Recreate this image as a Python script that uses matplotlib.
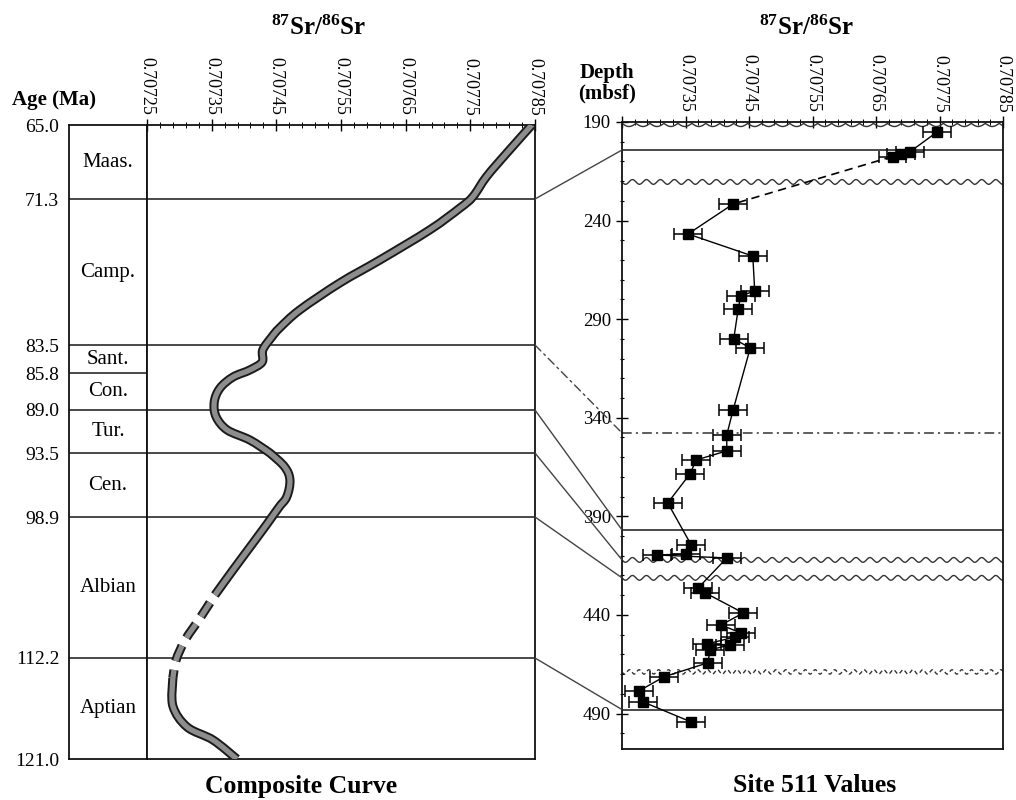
import numpy as np
import matplotlib
matplotlib.use("Agg")
import matplotlib.pyplot as plt
from matplotlib.patches import ConnectionPatch, PathPatch
from matplotlib.path import Path
from matplotlib.ticker import FixedLocator

plt.rcParams['font.family'] = ['Liberation Serif', 'DejaVu Serif']
plt.rcParams['mathtext.fontset'] = 'custom'
plt.rcParams['mathtext.rm'] = 'Liberation Serif:bold'
plt.rcParams['mathtext.it'] = 'Liberation Serif:bold'
plt.rcParams['mathtext.bf'] = 'Liberation Serif:bold'
plt.rcParams['lines.scale_dashes'] = False

# ---------------- data ----------------
stage_names = ['Maas.', 'Camp.', 'Sant.', 'Con.', 'Tur.', 'Cen.', 'Albian', 'Aptian']
stage_bounds = [65.0, 71.3, 83.5, 85.8, 89.0, 93.5, 98.9, 112.2, 121.0]
# hand-drafted (non-linear) spacing of the age axis, relative units
age_axis_pos = [0, 74, 220, 248, 285, 328, 392, 533, 634]
full_width_bounds = [71.3, 83.5, 89.0, 93.5, 98.9, 112.2]

curve_age = [65.0, 67.41, 69.40, 71.10, 72.05, 73.89, 76.40, 78.32, 80.58,
             82.08, 82.83, 83.91, 84.90, 85.55, 86.15, 87.10, 88.31, 89.73,
             91.09, 92.14, 93.50, 94.68, 95.78, 97.21, 98.31, 101.35, 103.90,
             106.26, 108.43, 110.50, 112.37, 113.94, 116.38, 118.21, 119.34, 121.0]
curve_sr = [0.707845, 0.707806, 0.707775, 0.707754, 0.707734, 0.707687, 0.707610,
            0.707548, 0.707486, 0.707455, 0.707443, 0.707429, 0.707428, 0.707409,
            0.707383, 0.707363, 0.707354, 0.707357, 0.707374, 0.707409, 0.707440,
            0.707463, 0.707471, 0.707466, 0.707451, 0.707414, 0.707383, 0.707355,
            0.707332, 0.707309, 0.707295, 0.707290, 0.707290, 0.707312, 0.707352,
            0.707389]
curve_dashed_from = 106.26
curve_dashed_to = 113.94

site_depth = [195.1, 205.0, 206.0, 207.5, 231.6, 246.8, 258.0, 275.7, 278.2,
              284.8, 300.0, 304.6, 336.0, 348.7, 356.8, 361.4, 368.5, 383.2,
              404.5, 409.1, 409.6, 411.1, 426.3, 428.8, 439.0, 445.1, 449.1,
              451.2, 454.7, 455.2, 457.7, 464.3, 471.4, 478.5, 484.1, 494.3]
site_sr = [0.707746, 0.707704, 0.707689, 0.707676, 0.707425, 0.707354, 0.707456,
           0.707459, 0.707437, 0.707433, 0.707426, 0.707452, 0.707425, 0.707415,
           0.707415, 0.707367, 0.707357, 0.707322, 0.707359, 0.707351, 0.707305,
           0.707415, 0.707370, 0.707381, 0.707441, 0.707406, 0.707437, 0.707428,
           0.707384, 0.707420, 0.707389, 0.707385, 0.707316, 0.707277, 0.707283,
           0.707359]
site_err = 0.000022
dashed_segment = 3   # segment from point 3 to point 4 is dashed

solid_depths = [204.2, 396.9, 488.0]
wavy_depths = [220.4, 412.1, 421.2]
scallop_depths = [190.7]
wavy_dashed_depths = [468.9]
dashdot_depths = [347.7]

tie_ages = [71.3, 83.5, 89.0, 93.5, 98.9, 112.2]
tie_depths = [204.2, 347.7, 396.9, 412.1, 421.2, 488.0]
tie_styles = ['-', (0, (6, 3, 1.5, 3)), '-', '-', '-', '-']

sr_ticks = [0.70725, 0.70735, 0.70745, 0.70755, 0.70765, 0.70775, 0.70785]
site_sr_labels = ['', '0.70735', '0.70745', '0.70755', '0.70765', '0.70775', '0.70785']
depth_ticks = [190, 240, 290, 340, 390, 440, 490]
depth_range = (508, 190)

# ---------------- figure ----------------
W, H = 1016, 800
fig = plt.figure(figsize=(W / 100, H / 100), dpi=100)


def px_axes(x0, y0, x1, y1):
    return fig.add_axes([x0 / W, 1 - y1 / H, (x1 - x0) / W, (y1 - y0) / H])


def fwd(a):
    return np.interp(a, stage_bounds, age_axis_pos)


def inv(p):
    return np.interp(p, age_axis_pos, stage_bounds)


def smooth_path(x, y):
    """Catmull-Rom curve through the read points, as cubic Bezier path."""
    P = np.column_stack([x, y])
    n = len(P)
    verts = [P[0]]
    codes = [Path.MOVETO]
    for i in range(n - 1):
        p0 = P[i - 1] if i > 0 else P[i]
        p1, p2 = P[i], P[i + 1]
        p3 = P[i + 2] if i + 2 < n else P[i + 1]
        verts += [p1 + (p2 - p0) / 6, p2 - (p3 - p1) / 6, p2]
        codes += [Path.CURVE4] * 3
    return Path(np.array(verts), codes)


ax_stage = px_axes(69, 125, 147, 759)
ax_curve = px_axes(147, 125, 535, 759)
ax_site = px_axes(622, 122, 1003, 749)

LINE = '#2a2a2a'
for ax in (ax_stage, ax_curve, ax_site):
    for s in ax.spines.values():
        s.set_linewidth(1.3)
        s.set_color('#111111')

for ax in (ax_stage, ax_curve):
    ax.set_yscale('function', functions=(fwd, inv))
    ax.set_ylim(stage_bounds[-1], stage_bounds[0])

# stage column
ax_stage.set_xlim(0, 1)
ax_stage.set_xticks([])
ax_stage.yaxis.set_major_locator(FixedLocator(stage_bounds))
ax_stage.set_yticklabels([f'{a:.1f}' for a in stage_bounds])
ax_stage.yaxis.set_minor_locator(FixedLocator([]))
ax_stage.tick_params(axis='y', which='both', length=0, pad=7, labelsize=14)
for a in stage_bounds[1:-1]:
    ax_stage.axhline(a, color=LINE, lw=1.2)
for i, name in enumerate(stage_names):
    mid = inv((fwd(stage_bounds[i]) + fwd(stage_bounds[i + 1])) / 2)
    ax_stage.text(0.5, mid, name, ha='center', va='center', fontsize=15)

# composite curve
ax_curve.set_xlim(sr_ticks[0], sr_ticks[-1])
ax_curve.yaxis.set_major_locator(FixedLocator([]))
ax_curve.yaxis.set_minor_locator(FixedLocator([]))
for a in full_width_bounds:
    ax_curve.axhline(a, color=LINE, lw=1.2)

ca = np.array(curve_age)
cs = np.array(curve_sr)
upper = ca <= curve_dashed_from
mid = (ca >= curve_dashed_from) & (ca <= curve_dashed_to)
lower = ca >= curve_dashed_to
for mask, ls in ((upper, '-'), (lower, '-'), (mid, (12, (12, 6.5)))):
    path = smooth_path(cs[mask], ca[mask])
    for col, lw, z in (('#1a1a1a', 6.6, 3), ('#8d8d8d', 3.8, 4)):
        ax_curve.add_patch(PathPatch(path, facecolor='none', edgecolor=col, lw=lw,
                                     ls=ls, capstyle='butt', joinstyle='round',
                                     zorder=z))

# site 511 panel
ax_site.set_xlim(sr_ticks[0], sr_ticks[-1])
ax_site.set_ylim(*depth_range)
ax_site.set_yticks(depth_ticks)
ax_site.yaxis.set_minor_locator(FixedLocator(np.arange(190, 509, 10)))
ax_site.tick_params(axis='y', which='major', direction='inout', length=8,
                    width=1, pad=4, labelsize=13.5)
ax_site.tick_params(axis='y', which='minor', direction='inout', length=3, width=0.8)

x0, x1 = sr_ticks[0], sr_ticks[-1]
xs = np.linspace(x0, x1, 1500)
period = 0.000022
for d in solid_depths:
    ax_site.axhline(d, color=LINE, lw=1.2)
for d in dashdot_depths:
    ax_site.axhline(d, color='#333333', lw=1.1, ls=(0, (7, 3, 1.5, 3)))
for d in wavy_depths:
    ax_site.plot(xs, d + 1.2 * np.sin(2 * np.pi * (xs - x0) / period),
                 color='#333333', lw=1.0)
for d in scallop_depths:
    ax_site.plot(xs, d + 1.6 * np.abs(np.sin(np.pi * (xs - x0) / period)),
                 color='#333333', lw=1.0)
for d in wavy_dashed_depths:
    ax_site.plot(xs, d + 1.1 * np.sin(2 * np.pi * (xs - x0) / (period * 0.7)),
                 color='#333333', lw=1.0, ls=(0, (3, 2)))

ax_site.errorbar(site_sr, site_depth, xerr=site_err, fmt='none', ecolor='black',
                 elinewidth=1.1, capsize=4.5, capthick=1.1, zorder=3)
sd = np.array(site_depth)
ss = np.array(site_sr)
ax_site.plot(ss[:dashed_segment + 1], sd[:dashed_segment + 1], color='black', lw=1.0, zorder=3)
ax_site.plot(ss[dashed_segment:dashed_segment + 2], sd[dashed_segment:dashed_segment + 2],
             color='black', lw=1.2, ls=(0, (6, 4)), zorder=3)
ax_site.plot(ss[dashed_segment + 1:], sd[dashed_segment + 1:], color='black', lw=1.0, zorder=3)
ax_site.plot(ss, sd, 's', color='black', ms=7, zorder=4)

# top Sr axes
for ax, labels in ((ax_curve, [f'{v:.5f}' for v in sr_ticks]), (ax_site, site_sr_labels)):
    ax.xaxis.tick_top()
    ax.set_xticks(sr_ticks)
    ax.set_xticklabels(labels, rotation=-90, va='bottom', ha='center', fontsize=13)
    ax.xaxis.set_minor_locator(FixedLocator(sr_ticks[0] + np.arange(31) * 0.00002))
    ax.tick_params(axis='x', which='major', direction='inout', length=8, width=1, pad=3)
    ax.tick_params(axis='x', which='minor', direction='inout', length=4, width=0.7)

# tie lines between panels
for a, d, ls in zip(tie_ages, tie_depths, tie_styles):
    con = ConnectionPatch(xyA=(sr_ticks[-1], a), coordsA=ax_curve.transData,
                          xyB=(sr_ticks[0], d), coordsB=ax_site.transData,
                          color='#444444', lw=1.0, ls=ls)
    fig.add_artist(con)

# titles and labels
title = r'$^{87}$Sr/$^{86}$Sr'
fig.text(318 / W, 1 - 28 / H, title, ha='center', va='center', fontsize=18, fontweight='bold')
fig.text(806 / W, 1 - 28 / H, title, ha='center', va='center', fontsize=18, fontweight='bold')
fig.text(54 / W, 1 - 100 / H, 'Age (Ma)', ha='center', va='center', fontsize=15, fontweight='bold')
fig.text(607 / W, 1 - 83 / H, 'Depth\n(mbsf)', ha='center', va='center', fontsize=15,
         fontweight='bold', linespacing=1.05)
fig.text(301 / W, 1 - 787 / H, 'Composite Curve', ha='center', va='center',
         fontsize=18.5, fontweight='bold')
fig.text(815 / W, 1 - 785 / H, 'Site 511 Values', ha='center', va='center',
         fontsize=18.5, fontweight='bold')

fig.savefig('out.png', dpi=100)
